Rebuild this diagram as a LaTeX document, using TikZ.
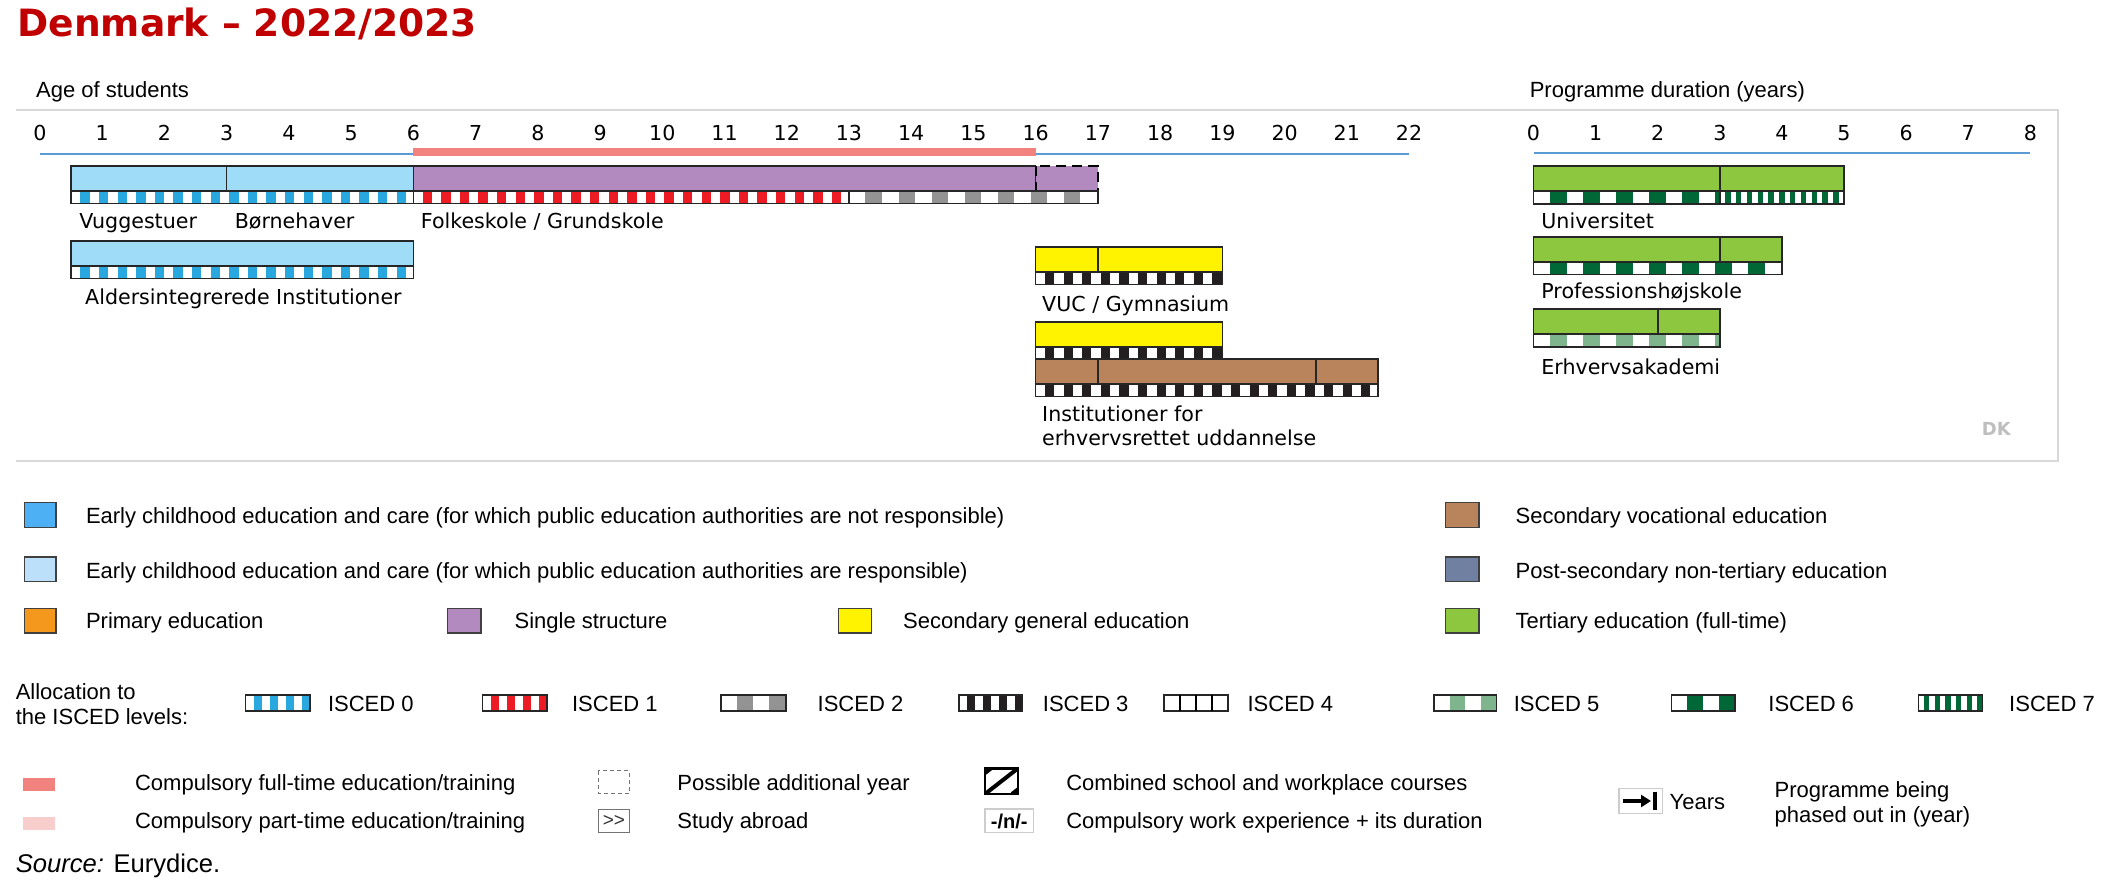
\documentclass[tikz,border=0pt]{standalone}
\usepackage{fontspec}
\setmainfont{Liberation Sans}
\newfontfamily\dejavu{DejaVu Sans}
\usetikzlibrary{arrows.meta}

\definecolor{titlered}{RGB}{192,0,0}
\definecolor{framegray}{RGB}{217,217,217}
\definecolor{axisblue}{RGB}{91,155,213}
\definecolor{fullpink}{RGB}{242,130,125}
\definecolor{partpink}{RGB}{248,206,204}
\definecolor{ececbar}{RGB}{159,220,247}
\definecolor{ececpub}{RGB}{189,224,250}
\definecolor{ececnot}{RGB}{77,176,245}
\definecolor{primary}{RGB}{243,152,29}
\definecolor{single}{RGB}{178,138,192}
\definecolor{secgen}{RGB}{255,243,0}
\definecolor{secvoc}{RGB}{185,132,92}
\definecolor{postsec}{RGB}{111,128,160}
\definecolor{tert}{RGB}{141,198,63}
\definecolor{isc0}{RGB}{41,168,224}
\definecolor{isc1}{RGB}{237,28,36}
\definecolor{isc2}{RGB}{147,147,147}
\definecolor{isc3}{RGB}{35,31,32}
\definecolor{isc5}{RGB}{127,181,140}
\definecolor{isc6}{RGB}{0,104,55}
\definecolor{dkgray}{RGB}{190,190,190}

\newcommand{\lblfont}{\dejavu\fontsize{10.3}{12}\selectfont}
\newcommand{\txtfont}{\fontsize{11}{12.25}\selectfont}

% ISCED strip: x from, x to, y top, y bottom, colour, period
\newcommand{\iscedbar}[6]{%
  \begin{scope}
    \clip ({#1},{#3}) rectangle ({#2},{#4});
    \fill[white] ({#1},{#3}) rectangle ({#2},{#4});
    \pgfmathtruncatemacro{\nblk}{((#2)-(#1))/(#6)}
    \foreach \k in {0,...,\nblk}
      \fill[#5] ({#1+(\k+0.5)*#6},{#3}) rectangle ({#1+(\k+1)*#6},{#4});
  \end{scope}
  \draw[barline] ({#1},{#3}) rectangle ({#2},{#4});}

\begin{document}
\begin{tikzpicture}[x=0.5pt,y=0.5pt,yscale=-1,
  declare function={agex(\a)=40+62.23*\a; durx(\d)=1533.5+62.1*\d;},
  barline/.style={draw=black!85,line width=0.8pt},
  swatch/.style={draw=black!75,line width=0.8pt},
  lbl/.style={anchor=base west,inner sep=0pt,font=\lblfont},
  txt/.style={anchor=base west,inner sep=0pt,font=\txtfont},
  num/.style={anchor=base,inner sep=0pt,font=\lblfont}]
\useasboundingbox (0,0) rectangle (2110,894);

% Title
\node (title) at (17,36) [anchor=base west,inner sep=0pt,text=titlered,
  font=\dejavu\bfseries\fontsize{18.8}{22}\selectfont] {Denmark – 2022/2023};

% Headings
\node (agehead) at (35.7,97) [txt] {Age of students};
\node (durhead) at (1529.4,97) [txt] {Programme duration (years)};

%Shape: Frame
\draw[framegray,line width=0.9pt] (16,110) -- (2058,110) -- (2058,461) -- (16,461);

%Axis: age of students
\draw[axisblue,line width=1pt] ({agex(0)},154) -- ({agex(22)},154);
\fill[fullpink] ({agex(6)},147.5) rectangle ({agex(16)},155.5);
\foreach \a in {0,...,22}
  \node (age\a) at ({agex(\a)},140) [num] {\a};

%Axis: programme duration
\draw[axisblue,line width=1pt] ({durx(0)},153) -- ({durx(8)},153);
\foreach \d in {0,...,8}
  \node (dur\d) at ({durx(\d)},140) [num] {\d};

%Bars: Vuggestuer / Boernehaver
\fill[ececbar] ({agex(0.5)},166) rectangle ({agex(6)},191);
\draw[barline] ({agex(0.5)},166) rectangle ({agex(3)},191);
\draw[barline] ({agex(3)},166) rectangle ({agex(6)},191);
\iscedbar{agex(0.5)}{agex(6)}{191}{203.3}{isc0}{18.6}

%Bars: Folkeskole / Grundskole
\draw[barline,fill=single] ({agex(6)},166) rectangle ({agex(16)},191);
\draw[fill=single,line width=1pt,dash pattern=on 5pt off 3pt] ({agex(16)},166) rectangle ({agex(17)},191);
\iscedbar{agex(6)}{agex(13)}{191}{203.3}{isc1}{18.6}
\iscedbar{agex(13)}{agex(17)}{191}{203.3}{isc2}{33}

%Bars: Aldersintegrerede Institutioner
\draw[barline,fill=ececbar] ({agex(0.5)},240.7) rectangle ({agex(6)},265.7);
\iscedbar{agex(0.5)}{agex(6)}{265.7}{278.3}{isc0}{18.6}

%Bars: VUC / Gymnasium
\draw[barline,fill=secgen] ({agex(16)},246.7) rectangle ({agex(19)},271.7);
\draw[barline] ({agex(17)},246.7) -- ({agex(17)},271.7);
\iscedbar{agex(16)}{agex(19)}{271.7}{284.3}{isc3}{18.6}

%Bars: erhvervsrettet uddannelse
\draw[barline,fill=secgen] ({agex(16)},321.7) rectangle ({agex(19)},346.7);
\iscedbar{agex(16)}{agex(19)}{346.7}{359}{isc3}{18.6}
\draw[barline,fill=secvoc] ({agex(16)},359) rectangle ({agex(21.5)},384);
\draw[barline] ({agex(17)},359) -- ({agex(17)},384);
\draw[barline] ({agex(20.5)},359) -- ({agex(20.5)},384);
\iscedbar{agex(16)}{agex(21.5)}{384}{396.3}{isc3}{18.6}

%Bars: Universitet
\draw[barline,fill=tert] ({durx(0)},166) rectangle ({durx(5)},191);
\draw[barline] ({durx(3)},166) -- ({durx(3)},191);
\iscedbar{durx(0)}{durx(3)}{191}{203.7}{isc6}{33}
\iscedbar{durx(3)}{durx(5)}{191}{203.7}{isc6}{10.8}

%Bars: Professionshoejskole
\draw[barline,fill=tert] ({durx(0)},236.7) rectangle ({durx(4)},261.7);
\draw[barline] ({durx(3)},236.7) -- ({durx(3)},261.7);
\iscedbar{durx(0)}{durx(4)}{261.7}{274.3}{isc6}{33}

%Bars: Erhvervsakademi
\draw[barline,fill=tert] ({durx(0)},309) rectangle ({durx(3)},334);
\draw[barline] ({durx(2)},309) -- ({durx(2)},334);
\iscedbar{durx(0)}{durx(3)}{334}{346.7}{isc5}{33}

% Text Node
\node (vug) at (79,228) [lbl] {Vuggestuer};
\node (born) at (234.4,228) [lbl] {Børnehaver};
\node (folk) at (420.5,228) [lbl] {Folkeskole / Grundskole};
\node (alders) at (84.8,304) [lbl] {Aldersintegrerede Institutioner};
\node (vuc) at (1041.8,311) [lbl] {VUC / Gymnasium};
\node (erhvud) at (1041.8,445) [lbl,align=left] {Institutioner for\\erhvervsrettet uddannelse};
\node (uni) at (1541,228) [lbl] {Universitet};
\node (prof) at (1541,298.5) [lbl] {Professionshøjskole};
\node (erhv) at (1541,374) [lbl] {Erhvervsakademi};
\node (dk) at (1981.5,435) [anchor=base west,inner sep=0pt,text=dkgray,
  font=\dejavu\bfseries\fontsize{9}{10}\selectfont] {DK};

%Legend: categories
\draw[swatch,fill=ececnot] (24.6,502.3) rectangle (56.1,527.3);
\node (lgnot) at (85.6,523.5) [txt] {Early childhood education and care (for which public education authorities are not responsible)};
\draw[swatch,fill=ececpub] (24.6,557) rectangle (56.1,581.5);
\node (lgpub) at (85.6,578) [txt] {Early childhood education and care (for which public education authorities are responsible)};
\draw[swatch,fill=primary] (24.6,608.3) rectangle (56.1,632.7);
\node (lgprim) at (85.6,628.5) [txt] {Primary education};
\draw[swatch,fill=single] (447.6,608.3) rectangle (481.2,632.7);
\node (lgsing) at (514.2,628.5) [txt] {Single structure};
\draw[swatch,fill=secgen] (838.3,608.3) rectangle (871.3,632.7);
\node (lggen) at (902.8,628.5) [txt] {Secondary general education};
\draw[swatch,fill=secvoc] (1445.5,502.3) rectangle (1478.7,527.3);
\node (lgvoc) at (1515.2,523.5) [txt] {Secondary vocational education};
\draw[swatch,fill=postsec] (1445.5,557) rectangle (1478.7,581.5);
\node (lgpost) at (1515.2,578) [txt] {Post-secondary non-tertiary education};
\draw[swatch,fill=tert] (1445.5,608.3) rectangle (1478.7,632.7);
\node (lgtert) at (1515.2,628.5) [txt] {Tertiary education (full-time)};

%Legend: ISCED levels
\node (alloc) at (15.4,724) [txt,align=left] {Allocation to\\the ISCED levels:};
\foreach \xa/\xb/\col/\per in {245.5/310/isc0/16, 482.6/547.2/isc1/16,
    721.2/785.7/isc2/32, 959.2/1022.4/isc3/16, 1434/1496.5/isc5/31.2,
    1671.6/1734.9/isc6/31.6, 1918.5/1982.6/isc6/10.7}
  \iscedbar{\xa}{\xb}{695}{710.7}{\col}{\per}
\draw[barline,fill=white] (1163.9,695) rectangle (1227.9,710.7);
\foreach \i in {1,2,3}
  \draw[line width=1.1pt] ({1163.9+16*\i},695) -- ++(0,15.7);
\foreach \n/\xt in {0/327.6, 1/571.7, 2/817.3, 3/1042.5, 4/1247.2, 5/1513.4, 6/1768, 7/2008.8}
  \node (isc\n) at (\xt,711) [txt] {ISCED \n};

%Legend: symbols
\fill[fullpink] (23,778) rectangle (55,791);
\node (lgfull) at (134.7,790) [txt] {Compulsory full-time education/training};
\fill[partpink] (23,817) rectangle (55,830);
\node (lgpart) at (134.7,828.5) [txt] {Compulsory part-time education/training};
\draw[black!55,line width=0.6pt,dash pattern=on 2pt off 1.5pt] (598.4,770.7) rectangle (629.3,793.3);
\node (lgadd) at (677,790) [txt] {Possible additional year};
\draw[black!55,line width=0.6pt] (598.4,809.3) rectangle (629.3,832.7);
\node (abroad) at (613.9,821) [inner sep=0pt,font=\fontsize{9.5}{10}\selectfont,text=black!80] {>{}>};
\node (lgabroad) at (677,828.5) [txt] {Study abroad};
\begin{scope}
  \clip (985,768.3) rectangle (1018,794);
  \foreach \o in {-27,0,27}
    \draw[line width=2pt] ({985+\o},794) -- ({1018+\o},768.3);
\end{scope}
\draw[line width=1.2pt] (985,768.3) rectangle (1018,794);
\node (lgcomb) at (1065.9,790) [txt] {Combined school and workplace courses};
\draw[black!20,line width=0.6pt] (985,809) rectangle (1033.5,832.7);
\node (work) at (1009.2,821) [inner sep=0pt,font=\bfseries\fontsize{10}{11}\selectfont] {-/n/-};
\node (lgwork) at (1065.9,828.5) [txt] {Compulsory work experience + its duration};
\draw[black!20,line width=0.6pt] (1619,788.3) rectangle (1662.3,813.3);
\draw[line width=1.6pt,-{Triangle[length=5pt,width=6pt]}] (1623,801) -- (1651,801);
\draw[line width=1.8pt] (1655,791.5) -- (1655,810);
\node (years) at (1669.3,809.5) [txt] {Years};
\node (phased) at (1774.2,822) [txt,align=left] {Programme being\\phased out in (year)};

% Source
\node (source) at (15.4,872.5) [anchor=base west,inner sep=0pt,font=\fontsize{12.8}{14}\selectfont] {\textit{Source:} Eurydice.};
\end{tikzpicture}
\end{document}
